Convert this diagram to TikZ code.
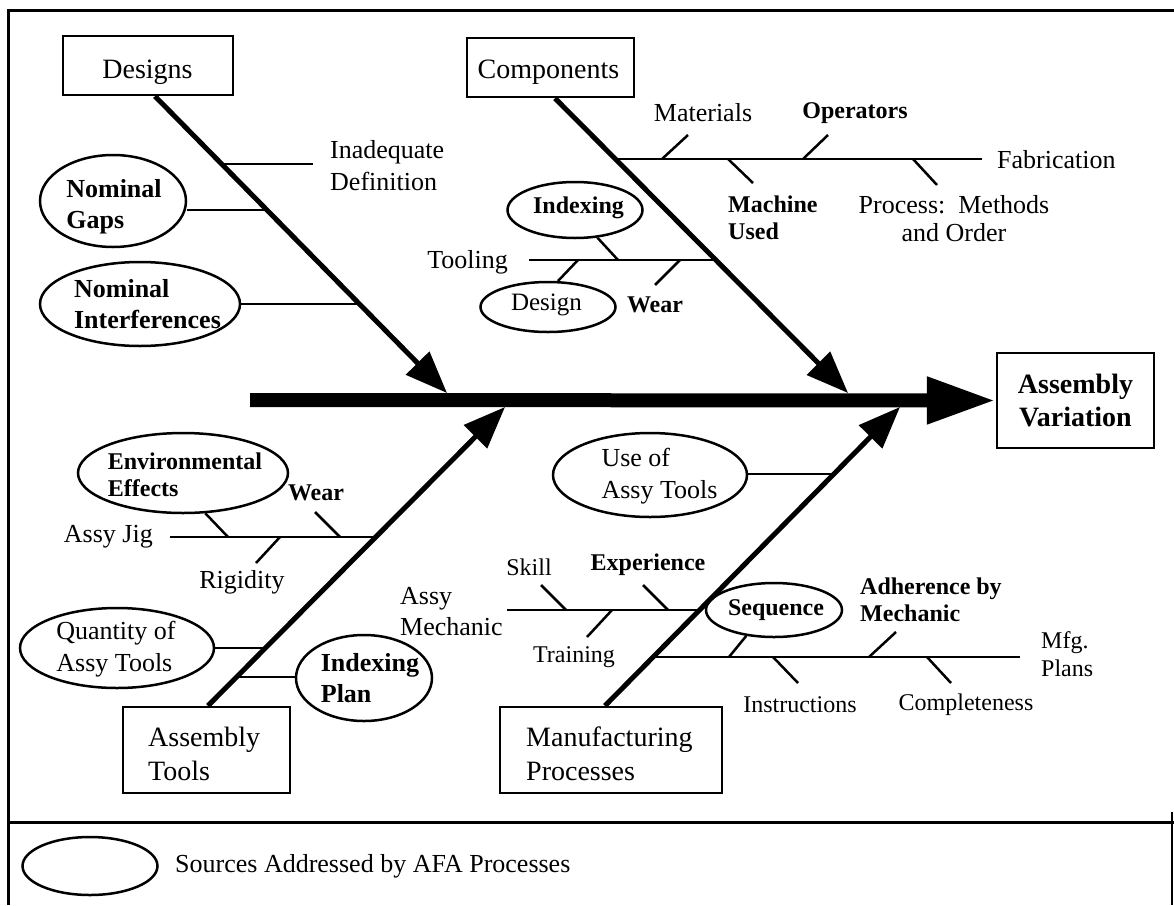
\documentclass[tikz,border=0pt]{standalone}
\usepackage{fontspec}
\setmainfont{Liberation Serif}
\usetikzlibrary{arrows.meta,shapes.geometric,calc}
\begin{document}
\begin{tikzpicture}[x=1pt,y=-1pt,
  nt/.style={font=\fontsize{26}{32}\selectfont, inner sep=0pt, align=left},
  bt/.style={font=\fontsize{24}{27}\selectfont\bfseries, inner sep=0pt, align=left},
  bbt/.style={font=\fontsize{26}{31}\selectfont\bfseries, inner sep=0pt, align=left},
  blbl/.style={draw, line width=2.5pt, inner sep=0pt},
  btxt/.style={font=\fontsize{28}{34}\selectfont, inner sep=0pt, align=left},
  oval/.style={draw, ellipse, line width=2.5pt, inner sep=0pt},
  bone/.style={line width=5pt, -{Triangle[length=42pt,width=32pt]}},
  sub/.style={line width=2.5pt},
  frame/.style={line width=3pt},
]
\useasboundingbox (0,0) rectangle (1174,905);
% frame
\draw[frame] (8,905) -- (8,10) -- (1174,10);
\draw[frame] (8,822) -- (1174,822);
\draw[line width=2pt] (1172,812) -- (1172,905);

% boxes
\node[blbl, minimum width=170pt, minimum height=59pt] (designs) at (148,65.5) {};
\node[btxt, anchor=base] (designsT) at (147.5,78) {Designs};
\node[blbl, minimum width=167pt, minimum height=59pt] (comps) at (550.5,67.5) {};
\node[btxt, anchor=base] (compsT) at (548.5,78) {Components};
\node[blbl, minimum width=157pt, minimum height=95pt, align=center, font=\fontsize{28}{33}\selectfont\bfseries] (av) at (1075.5,400.5) {Assembly\\Variation};
\node[blbl, minimum width=167pt, minimum height=86pt] (atools) at (206.5,750) {};
\node[btxt, anchor=north west] (atoolsT) at (148,727) {Assembly\\Tools};
\node[blbl, minimum width=222pt, minimum height=86pt] (mproc) at (611,750) {};
\node[btxt, anchor=north west] (mprocT) at (526,727) {Manufacturing\\Processes};

% spine
\coordinate (spine0) at (250,400);
\draw[line width=14pt, -{Triangle[length=69pt,width=44pt]}] (spine0) -- (av.west);

% bones
\coordinate (dtip) at (447,393);
\coordinate (ctip) at (848,393);
\coordinate (ttip) at (505,407);
\coordinate (mtip) at (900,407);
\draw[bone] ($(designs.south)+(7,0)$) -- (dtip);
\draw[bone] ($(comps.south)+(4.5,0)$) -- (ctip);
\draw[bone] ($(atools.north)+(1.5,0)$) -- (ttip);
\draw[bone] ($(mproc.north)+(-6,0)$) -- (mtip);

% ===== Designs =====
\coordinate (jinad) at (222.6,164);
\coordinate (inadE) at (313,164);
\draw[sub] (jinad) -- (inadE);
\node[nt, anchor=west] (inad) at (330,166) {Inadequate\\Definition};

\node[oval, minimum width=146pt, minimum height=92pt] (gaps) at (113,201) {};
\node[bbt] (gapsT) at (114,207) {Nominal\\Gaps};
\coordinate (jgaps) at (267.7,210);
\draw[sub] (gaps.east |- jgaps) -- (jgaps);

\node[oval, minimum width=200pt, minimum height=84pt] (interf) at (140,304) {};
\node[bbt] (interfT) at (147.5,304) {Nominal\\Interferences};
\coordinate (jint) at (359.8,304);
\draw[sub] (interf.east) -- (jint);

% ===== Components =====
\coordinate (jfab) at (616.4,159);
\coordinate (fabE) at (982,159);
\draw[sub] (jfab) -- (fabE);
\node[nt, anchor=west] (fab) at (997,160) {Fabrication};
\coordinate (tmat0) at (662,159);   \coordinate (tmat1) at (688,135);
\coordinate (topr0) at (803,159);   \coordinate (topr1) at (828,135);
\coordinate (tmach0) at (728,159);  \coordinate (tmach1) at (753,183);
\coordinate (tproc0) at (913,159);  \coordinate (tproc1) at (937,185);
\draw[sub] (tmat0) -- (tmat1);
\draw[sub] (topr0) -- (topr1);
\draw[sub] (tmach0) -- (tmach1);
\draw[sub] (tproc0) -- (tproc1);
\node[nt] (mat) at (703,113) {Materials};
\node[bt] (opr) at (855,113) {Operators};
\node[bt, anchor=west] (mach) at (728,218) {Machine\\Used};
\node[nt, align=center, font=\fontsize{26}{28}\selectfont] (proc) at (954,219) {Process:\ \ Methods\\and Order};

\coordinate (jtool) at (716,260);
\coordinate (toolW) at (529,260);
\draw[sub] (toolW) -- (jtool);
\node[nt, anchor=east] (tool) at (508,262) {Tooling};
\node[oval, minimum width=135pt, minimum height=56pt] (indexing) at (575,210) {};
\node[bt] (indexingT) at (578.5,208) {Indexing};
\node[oval, minimum width=135pt, minimum height=50pt] (design) at (548,307) {};
\node[nt, font=\fontsize{25}{30}\selectfont] (designT) at (546.5,305) {Design};
\coordinate (tidx) at (618,260);
\coordinate (tdes) at (578,260);
\coordinate (twear0) at (680,260); \coordinate (twear1) at (655,285);
\draw[sub] (indexing.-51) -- (tidx);
\draw[sub] (tdes) -- (design.69);
\draw[sub] (twear0) -- (twear1);
\node[bt] (wear1) at (655,305) {Wear};

% ===== Assembly Tools =====
\coordinate (jjig) at (375.4,537);
\coordinate (jigW) at (170,537);
\draw[sub] (jigW) -- (jjig);
\node[nt, anchor=east] (ajig) at (153,537) {Assy Jig};
\node[oval, minimum width=210pt, minimum height=80pt] (env) at (183,473) {};
\node[bt] (envT) at (185,474.5) {Environmental\\Effects};
\coordinate (tenv) at (228,537);
\draw[sub] (env.-61) -- (tenv);
\coordinate (tw20) at (340,537); \coordinate (tw21) at (315,512);
\draw[sub] (tw20) -- (tw21);
\node[bt] (wear2) at (316,493) {Wear};
\coordinate (trig0) at (280,537); \coordinate (trig1) at (256,563);
\draw[sub] (trig0) -- (trig1);
\node[nt] (rig) at (242,582) {Rigidity};

\node[oval, minimum width=194pt, minimum height=80pt] (qty) at (117,648) {};
\node[nt] (qtyT) at (116,649) {Quantity of\\Assy Tools};
\coordinate (jqty) at (264.8,648);
\draw[sub] (qty.east) -- (jqty);

\node[oval, minimum width=136pt, minimum height=86pt] (iplan) at (364,678) {};
\node[bbt] (iplanT) at (370,678) {Indexing\\Plan};
\coordinate (jip) at (235.9,677);
\draw[sub] (jip) -- (iplan.west |- jip);

% ===== Manufacturing Processes =====
\node[oval, minimum width=194pt, minimum height=84pt] (useof) at (650,475) {};
\node[nt] (useofT) at (659.5,476) {Use of\\Assy Tools};
\coordinate (juse) at (834.9,474);
\draw[sub] (useof.east |- juse) -- (juse);

\coordinate (jam) at (700.7,610);
\coordinate (amW) at (507,610);
\draw[sub] (amW) -- (jam);
\node[nt, anchor=west, font=\fontsize{26}{31}\selectfont] (amech) at (400,612) {Assy\\Mechanic};
\coordinate (tsk0) at (541,585); \coordinate (tsk1) at (566,610);
\coordinate (tex0) at (643,585); \coordinate (tex1) at (668,610);
\coordinate (ttr0) at (612,610); \coordinate (ttr1) at (587,637);
\draw[sub] (tsk0) -- (tsk1);
\draw[sub] (tex0) -- (tex1);
\draw[sub] (ttr0) -- (ttr1);
\node[nt, font=\fontsize{24}{28}\selectfont] (skill) at (529,567) {Skill};
\node[bt] (exp) at (648,565) {Experience};
\node[nt, font=\fontsize{24}{28}\selectfont] (train) at (574,657) {Training};

\coordinate (jmp) at (654.3,657);
\coordinate (mpE) at (1020,657);
\draw[sub] (jmp) -- (mpE);
\node[nt, anchor=west, font=\fontsize{24}{28}\selectfont] (mfg) at (1041,654) {Mfg.\\Plans};
\node[oval, minimum width=136pt, minimum height=54pt] (seq) at (774,610) {};
\node[bt] (seqT) at (776,610) {Sequence};
\coordinate (tseq) at (729,657);
\draw[sub] (seq.-137) -- (tseq);
\coordinate (tad0) at (869,657); \coordinate (tad1) at (896,632);
\draw[sub] (tad0) -- (tad1);
\node[bt, anchor=west] (adh) at (860,600) {Adherence by\\Mechanic};
\coordinate (tin0) at (773,657); \coordinate (tin1) at (798,683);
\coordinate (tco0) at (927,657); \coordinate (tco1) at (951,683);
\draw[sub] (tin0) -- (tin1);
\draw[sub] (tco0) -- (tco1);
\node[nt, font=\fontsize{24}{28}\selectfont] (instr) at (800,705) {Instructions};
\node[nt, font=\fontsize{24}{28}\selectfont] (compl) at (966,705) {Completeness};

% ===== legend =====
\node[oval, minimum width=135pt, minimum height=58pt] (leg) at (90,866) {};
\node[nt, anchor=west] (legT) at (175,866) {Sources Addressed by AFA Processes};
\end{tikzpicture}
\end{document}
